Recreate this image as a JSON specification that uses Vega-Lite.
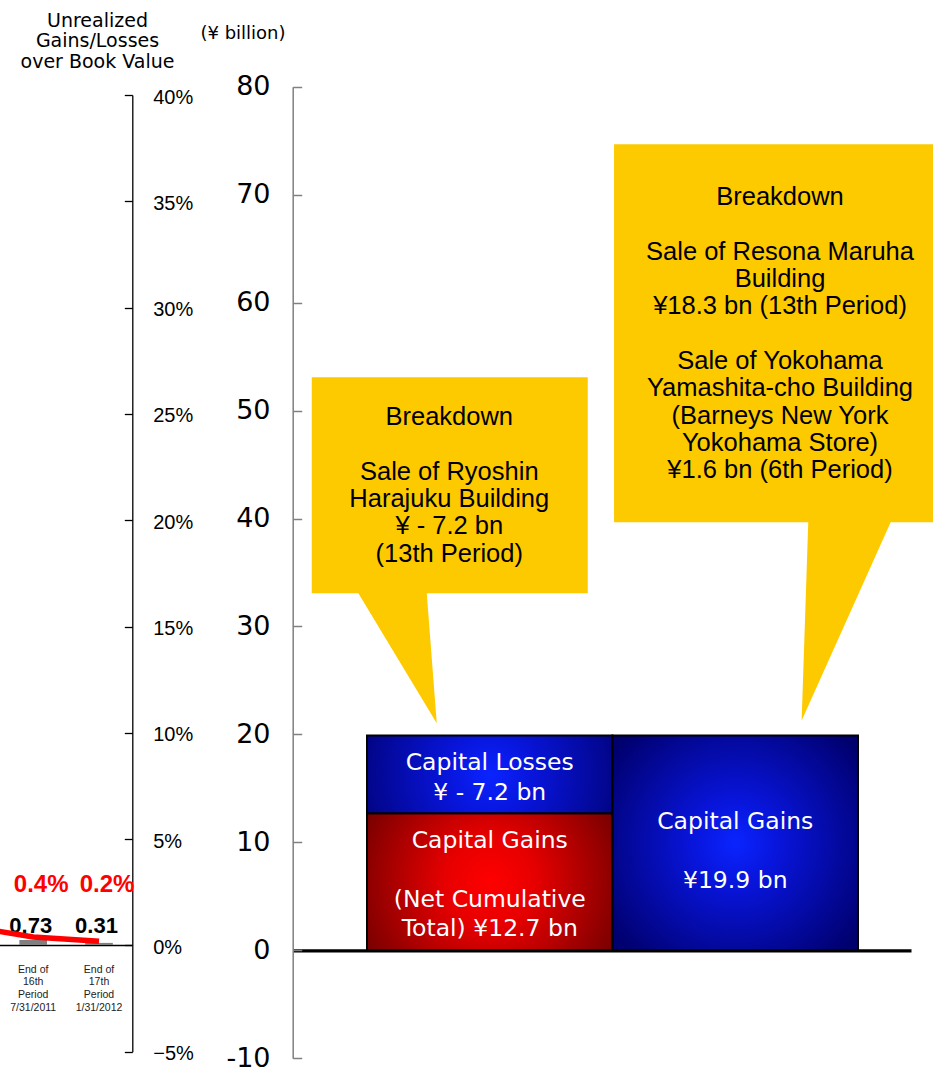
{
  "$schema": "https://vega.github.io/schema/vega-lite/v6.json",
  "width": 933,
  "height": 1074,
  "autosize": {"type": "none"},
  "padding": 0,
  "background": "white",
  "config": {
    "view": {"stroke": null},
    "axis": {"grid": false, "labelOverlap": false, "labelFlush": false}
  },
  "datasets": {
    "periods": [
      {"period": "15th", "date": "1/31/2011", "gain": null, "ratio": 0.9},
      {"period": "16th", "date": "7/31/2011", "gain": 0.73, "ratio": 0.4},
      {"period": "17th", "date": "1/31/2012", "gain": 0.31, "ratio": 0.2}
    ],
    "gains": [
      {"bar": "Net", "part": "Net Cumulative Total", "value": 12.7, "label": "Capital Gains\n\u200b\n(Net Cumulative\nTotal) ¥12.7 bn"},
      {"bar": "Net", "part": "Capital Losses", "value": 7.2, "label": "Capital Losses\n¥ - 7.2 bn"},
      {"bar": "Gross", "part": "Capital Gains", "value": 19.9, "label": "\u200b\n\u200b\nCapital Gains\n\u200b\n¥19.9 bn"}
    ],
    "notes": [
      {"bar": "Net", "total": 19.9, "note": "Breakdown\n\u200b\nSale of Ryoshin\nHarajuku Building\n¥ - 7.2 bn\n(13th Period)"},
      {"bar": "Gross", "total": 19.9, "note": "Breakdown\n\u200b\nSale of Resona Maruha\nBuilding\n¥18.3 bn (13th Period)\n\u200b\nSale of Yokohama\nYamashita-cho Building\n(Barneys New York\nYokohama Store)\n¥1.6 bn (6th Period)"}
    ]
  },
  "resolve": {"scale": {"x": "independent", "y": "independent"}},
  "layer": [
    {
      "data": {"name": "periods"},
      "transform": [{"filter": "isValid(datum.gain)"}],
      "layer": [
        {
          "mark": {"type": "bar", "color": "#808080", "width": {"band": 0.42}},
          "encoding": {
            "x": {"field": "period", "type": "nominal", "sort": null,
              "scale": {"type": "band", "domain": ["15th", "16th", "17th"], "range": [-65.5, 131.9], "paddingInner": 0, "paddingOuter": 0},
              "axis": {"orient": "bottom", "offset": -129, "labels": false, "ticks": false, "domain": true, "domainColor": "#000", "domainWidth": 1.3, "title": null}},
            "y": {"field": "gain", "type": "quantitative",
              "scale": {"domain": [0, 10], "range": [945, 877], "nice": false, "zero": false},
              "axis": null}
          }
        },
        {
          "transform": [{"calculate": "format(datum.gain, '.2f')", "as": "gainText"}],
          "mark": {"type": "text", "font": "Liberation Sans", "fontWeight": "bold", "fontSize": 22, "color": "#000", "align": "center", "baseline": "alphabetic", "dx": -2.5, "dy": -12},
          "encoding": {
            "x": {"field": "period", "type": "nominal", "sort": null, "bandPosition": 0.5,
              "scale": {"type": "band", "domain": ["15th", "16th", "17th"], "range": [-65.5, 131.9], "paddingInner": 0, "paddingOuter": 0}},
            "y": {"datum": 0, "type": "quantitative",
              "scale": {"domain": [0, 10], "range": [945, 877], "nice": false, "zero": false}},
            "text": {"field": "gainText", "type": "nominal"}
          }
        },
        {
          "transform": [{"calculate": "'End of\\n' + datum.period + '\\nPeriod\\n' + datum.date", "as": "periodText"}],
          "mark": {"type": "text", "font": "Liberation Sans", "fontSize": 10.5, "lineHeight": 12.6, "lineBreak": "\n", "color": "#222", "align": "center", "baseline": "middle", "dy": 24.8},
          "encoding": {
            "x": {"field": "period", "type": "nominal", "sort": null, "bandPosition": 0.5,
              "scale": {"type": "band", "domain": ["15th", "16th", "17th"], "range": [-65.5, 131.9], "paddingInner": 0, "paddingOuter": 0}},
            "y": {"datum": 0, "type": "quantitative",
              "scale": {"domain": [0, 10], "range": [945, 877], "nice": false, "zero": false}},
            "text": {"field": "periodText", "type": "nominal"}
          }
        }
      ]
    },
    {
      "data": {"name": "periods"},
      "layer": [
        {
          "mark": {"type": "line", "color": "#ff0000", "strokeWidth": 5.5},
          "encoding": {
            "x": {"field": "period", "type": "nominal", "sort": null, "bandPosition": 0.5,
              "scale": {"type": "band", "domain": ["15th", "16th", "17th"], "range": [-65.5, 131.9], "paddingInner": 0, "paddingOuter": 0},
              "axis": null},
            "y": {"field": "ratio", "type": "quantitative",
              "scale": {"domain": [-5, 40], "range": [1051.7, 95], "nice": false, "zero": false},
              "axis": {
                "orient": "right", "offset": -800.7,
                "values": [-5, 0, 5, 10, 15, 20, 25, 30, 35, 40],
                "labelExpr": "(datum.value < 0 ? '−' + abs(datum.value) : '' + datum.value) + '%'",
                "tickSize": -8, "labelPadding": 28.4, "labelOffset": 2,
                "domainColor": "#000", "tickColor": "#000", "domainWidth": 1.3, "tickWidth": 1.3,
                "labelFont": "Liberation Sans", "labelFontSize": 20, "labelColor": "#000", "labelAlign": "left",
                "title": ["Unrealized", "Gains/Losses", "over Book Value"],
                "titleAngle": 0, "titleX": -35.3, "titleY": 26.7, "titleAlign": "center", "titleBaseline": "alphabetic",
                "titleFont": "DejaVu Sans", "titleFontSize": 19, "titleFontWeight": "normal", "titleLineHeight": 20.3, "titleColor": "#000"
              }}
          }
        },
        {
          "transform": [
            {"filter": "isValid(datum.gain)"},
            {"calculate": "format(datum.ratio, '.1f') + '%'", "as": "ratioText"}
          ],
          "mark": {"type": "text", "font": "Liberation Sans", "fontWeight": "bold", "fontSize": 24, "color": "#ff0000", "align": "center", "baseline": "middle", "dx": 8, "dy": -60.1},
          "encoding": {
            "x": {"field": "period", "type": "nominal", "sort": null, "bandPosition": 0.5,
              "scale": {"type": "band", "domain": ["15th", "16th", "17th"], "range": [-65.5, 131.9], "paddingInner": 0, "paddingOuter": 0}},
            "y": {"datum": 0, "type": "quantitative",
              "scale": {"domain": [-5, 40], "range": [1051.7, 95], "nice": false, "zero": false}},
            "text": {"field": "ratioText", "type": "nominal"}
          }
        }
      ]
    },
    {
      "layer": [
        {
          "data": {"name": "notes"},
          "mark": {"type": "point", "filled": true, "opacity": 1, "fill": "#FDCA00", "strokeOpacity": 0, "size": 4},
          "encoding": {
            "x": {"field": "bar", "type": "nominal", "sort": null, "bandPosition": 0.5,
              "scale": {"type": "band", "domain": ["Net", "Gross"], "range": [292.7, 911], "paddingInner": 0, "paddingOuter": 0.2593, "align": 0.5837}},
            "y": {"field": "total", "type": "quantitative",
              "scale": {"domain": [-10, 80], "range": [1058.3, 86.7], "nice": false, "zero": false}},
            "shape": {"field": "bar", "type": "nominal", "legend": null,
              "scale": {"domain": ["Net", "Gross"], "range": [
                "M-178,-358.2H98V-142.2H-63L-53,-12.2L-131.4,-142.2H-178Z",
                "M-121.2,-591.2H214.8V-213.2H155.4L66.4,-15L73,-213.2H-121.2Z"
              ]}}
          }
        },
        {
          "data": {"name": "notes"},
          "transform": [{"filter": "datum.bar === 'Net'"}],
          "mark": {"type": "text", "font": "Liberation Sans", "fontSize": 25.5, "lineHeight": 27.3, "lineBreak": "\n", "color": "#000", "align": "center", "baseline": "middle", "dx": -40.5, "dy": -318.4},
          "encoding": {
            "x": {"field": "bar", "type": "nominal", "sort": null, "bandPosition": 0.5,
              "scale": {"type": "band", "domain": ["Net", "Gross"], "range": [292.7, 911], "paddingInner": 0, "paddingOuter": 0.2593, "align": 0.5837}},
            "y": {"field": "total", "type": "quantitative",
              "scale": {"domain": [-10, 80], "range": [1058.3, 86.7], "nice": false, "zero": false}},
            "text": {"field": "note", "type": "nominal"}
          }
        },
        {
          "data": {"name": "notes"},
          "transform": [{"filter": "datum.bar === 'Gross'"}],
          "mark": {"type": "text", "font": "Liberation Sans", "fontSize": 25.5, "lineHeight": 27.3, "lineBreak": "\n", "color": "#000", "align": "center", "baseline": "middle", "dx": 44.75, "dy": -538.4},
          "encoding": {
            "x": {"field": "bar", "type": "nominal", "sort": null, "bandPosition": 0.5,
              "scale": {"type": "band", "domain": ["Net", "Gross"], "range": [292.7, 911], "paddingInner": 0, "paddingOuter": 0.2593, "align": 0.5837}},
            "y": {"field": "total", "type": "quantitative",
              "scale": {"domain": [-10, 80], "range": [1058.3, 86.7], "nice": false, "zero": false}},
            "text": {"field": "note", "type": "nominal"}
          }
        },
        {
          "data": {"name": "gains"},
          "transform": [
            {"stack": "value", "groupby": ["bar"], "sort": [{"field": "part", "order": "descending"}], "as": ["v0", "v1"]}
          ],
          "mark": {"type": "bar", "stroke": "#000", "strokeWidth": 2},
          "encoding": {
            "x": {"field": "bar", "type": "nominal", "sort": null,
              "scale": {"type": "band", "domain": ["Net", "Gross"], "range": [292.7, 911], "paddingInner": 0, "paddingOuter": 0.2593, "align": 0.5837},
              "axis": {"orient": "bottom", "offset": -123.7, "labels": false, "ticks": false, "domain": true, "domainColor": "#000", "domainWidth": 3.2, "title": null}},
            "y": {"field": "v0", "type": "quantitative",
              "scale": {"domain": [-10, 80], "range": [1058.3, 86.7], "nice": false, "zero": false},
              "axis": {
                "orient": "left", "offset": -292.7,
                "values": [-10, 0, 10, 20, 30, 40, 50, 60, 70, 80],
                "labelExpr": "'' + datum.value",
                "tickSize": -9, "labelPadding": 31.7,
                "domainColor": "#808080", "tickColor": "#808080", "domainWidth": 1.5, "tickWidth": 1.5,
                "labelFont": "DejaVu Sans", "labelFontSize": 27, "labelColor": "#000", "labelAlign": "right",
                "title": "(¥ billion)",
                "titleAngle": 0, "titleX": -50.2, "titleY": 38.3, "titleAlign": "center", "titleBaseline": "alphabetic",
                "titleFont": "DejaVu Sans", "titleFontSize": 18, "titleFontWeight": "normal", "titleColor": "#000"
              }},
            "y2": {"field": "v1"},
            "fill": {
              "condition": {
                "test": "datum.part === 'Net Cumulative Total'",
                "value": {"gradient": "radial", "x1": 0.5, "y1": 0.5, "r1": 0, "x2": 0.5, "y2": 0.5, "r2": 0.62,
                  "stops": [{"offset": 0, "color": "#ff0000"}, {"offset": 0.3, "color": "#e60000"}, {"offset": 1, "color": "#6a0000"}]}
              },
              "value": {"gradient": "radial", "x1": 0.5, "y1": 0.5, "r1": 0, "x2": 0.5, "y2": 0.5, "r2": 0.62,
                "stops": [{"offset": 0, "color": "#0a24ff"}, {"offset": 0.3, "color": "#0814d8"}, {"offset": 1, "color": "#00006e"}]}
            }
          }
        },
        {
          "data": {"name": "gains"},
          "transform": [
            {"stack": "value", "groupby": ["bar"], "sort": [{"field": "part", "order": "descending"}], "as": ["v0", "v1"]}
          ],
          "mark": {"type": "text", "font": "DejaVu Sans", "fontSize": 23.5, "lineHeight": 29.5, "lineBreak": "\n", "color": "#fff", "align": "center", "baseline": "middle", "dy": 27.6},
          "encoding": {
            "x": {"field": "bar", "type": "nominal", "sort": null, "bandPosition": 0.5,
              "scale": {"type": "band", "domain": ["Net", "Gross"], "range": [292.7, 911], "paddingInner": 0, "paddingOuter": 0.2593, "align": 0.5837}},
            "y": {"field": "v1", "type": "quantitative",
              "scale": {"domain": [-10, 80], "range": [1058.3, 86.7], "nice": false, "zero": false}},
            "text": {"field": "label", "type": "nominal"}
          }
        }
      ]
    }
  ]
}
